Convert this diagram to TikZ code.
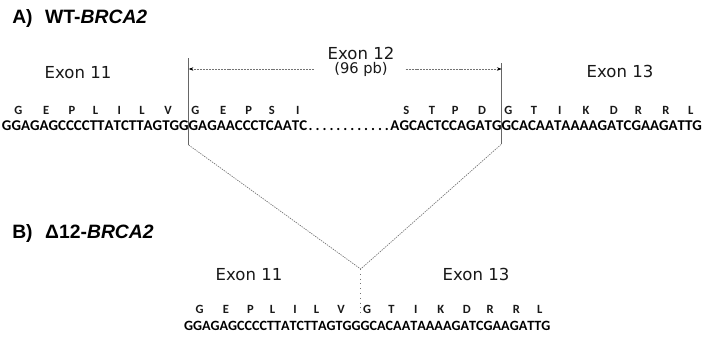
\documentclass[tikz,border=0pt]{standalone}
\usepackage{fontspec}
\setmainfont{Liberation Sans}
\newfontfamily\labelfont{DejaVu Sans}
\newfontfamily\seqfont{Carlito}
\usetikzlibrary{calc,arrows.meta}

% A row of bases, one node per letter, laid out rightwards from a start point.
% #1 name prefix, #2 start point, #3 letter style, #4 letters
\newcommand\basesrightward[4]{%
  \node[inner sep=0pt, outer sep=0pt, minimum size=0pt, anchor=base west] (#10) at #2 {};
  \foreach \ch [count=\i] in {#4} {
    \pgfmathtruncatemacro\previdx{\i-1}
    \node[#3, anchor=base west] (#1\i) at (#1\previdx.base east) {\ch};
  }%
}
% The same, laid out leftwards from an end point.
% #1 name prefix, #2 end point, #3 letter style, #4 number of letters,
% #5 letters from the last to the first
\newcommand\basesleftward[5]{%
  \pgfmathtruncatemacro\endidx{#4+1}
  \node[inner sep=0pt, outer sep=0pt, minimum size=0pt, anchor=base east] (#1\endidx) at #2 {};
  \foreach \ch [count=\i] in {#5} {
    \pgfmathtruncatemacro\curidx{#4+1-\i}
    \pgfmathtruncatemacro\nextidx{\curidx+1}
    \node[#3, anchor=base east] (#1\curidx) at (#1\nextidx.base west) {\ch};
  }%
}
% Amino acids centred over the middle base of each codon.
% #1 base prefix, #2 raise, #3 style, #4 residues
\newcommand\residues[4]{%
  \foreach \aa [count=\i] in {#4} {
    \pgfmathtruncatemacro\mididx{3*\i-1}
    \node[#3, anchor=base] (#1aa\i) at ($(#1\mididx.base)+(2,-#2)$) {\aa};
  }%
}

\tikzset{
  base/.style={inner sep=0pt, outer sep=0pt, font=\seqfont\bfseries\fontsize{11.2pt}{13pt}\selectfont},
  basesmall/.style={inner sep=0pt, outer sep=0pt, font=\seqfont\bfseries\fontsize{10.6pt}{12pt}\selectfont},
  residue/.style={inner sep=0pt, text=black!90, font=\seqfont\bfseries\fontsize{9.4pt}{11pt}\selectfont},
  exonlab/.style={inner sep=0pt, text=black!90, font=\labelfont\fontsize{12.4pt}{14pt}\selectfont},
  sizelab/.style={text=black!90, font=\labelfont\fontsize{11pt}{13pt}\selectfont},
  paneltitle/.style={inner sep=0pt, anchor=base west, font=\bfseries\fontsize{14.5pt}{16pt}\selectfont},
  exonline/.style={draw=black!60, line width=0.7pt},
  splice/.style={draw=black!55, line width=0.5pt, dash pattern=on 1pt off 0.8pt},
  junction/.style={draw=black!55, line width=0.6pt, dash pattern=on 0.6pt off 3pt},
  dimarrow/.style={draw=black!55, line width=0.5pt, dash pattern=on 1.5pt off 0.7pt,
                   -{Stealth[length=3.5pt, width=2.6pt, black]}},
}

\begin{document}
\begin{tikzpicture}[x=0.75pt, y=-0.75pt]
  \useasboundingbox[fill=white] (0,0) rectangle (704,339);

  % ---------- A) wild type ----------
  \node[paneltitle] (titleA) at (12,23) {A)\hspace{0.65em}WT-\textit{BRCA2}};

  % exon 11 + start of exon 12
  \basesrightward{t}{(2,130)}{base}{G,G,A,G,A,G,C,C,C,C,T,T,A,T,C,T,T,A,G,T,G,G,G,A,G,A,A,C,C,C,T,C,A,A,T,C}
  % end of exon 12 + exon 13
  \basesleftward{u}{(702,130)}{base}{36}{G,T,T,A,G,A,A,G,C,T,A,G,A,A,A,A,T,A,A,C,A,C,G,G,T,A,G,A,C,C,T,C,A,C,G,A}
  % elided part of exon 12
  \foreach \k in {1,...,12}
    \node[base, anchor=base] (gap\k) at ($(t36.base east)!{(\k-0.5)/12}!(u1.base west)$) {.};

  \residues{t}{16}{residue}{G,E,P,L,I,L,V,G,E,P,S,I}
  \residues{u}{16}{residue}{S,T,P,D,G,T,I,K,D,R,R,L}

  \node[exonlab, anchor=base] (ex11A) at (78,78) {Exon 11};
  \node[exonlab, anchor=base] (ex12A) at (361,59) {Exon 12};
  \node[sizelab] (pb) at (361,69) {(96 pb)};
  \node[exonlab, anchor=base] (ex13A) at (620,77) {Exon 13};

  % exon 12 boundaries
  \coordinate (yLtop) at (0,58);
  \coordinate (yRtop) at (0,63);
  \coordinate (yLbot) at (0,145);
  \coordinate (yRbot) at (0,144);
  \coordinate (Ltop) at (t22.base east |- yLtop);
  \coordinate (Lbot) at (t22.base east |- yLbot);
  \coordinate (Rtop) at (u13.base east |- yRtop);
  \coordinate (Rbot) at (u13.base east |- yRbot);
  \draw[exonline] (Ltop) -- (Lbot);
  \draw[exonline] (Rtop) -- (Rbot);
  \draw[dimarrow] ([xshift=-12pt]pb.west) -- (pb.west -| Ltop);
  \draw[dimarrow] ([xshift=10pt]pb.east) -- (pb.east -| Rtop);

  % ---------- B) exon 12 deleted ----------
  \node[paneltitle] (titleB) at (12,238) {B)\hspace{0.65em}Δ12-\textit{BRCA2}};

  \basesrightward{b}{(184,330)}{basesmall}{G,G,A,G,A,G,C,C,C,C,T,T,A,T,C,T,T,A,G,T,G,G,G,C,A,C,A,A,T,A,A,A,A,G,A,T,C,G,A,A,G,A,T,T,G}
  \residues{b}{17}{residue}{G,E,P,L,I,L,V,G,T,I,K,D,R,R,L}

  \node[exonlab, anchor=base] (ex11B) at (249,280) {Exon 11};
  \node[exonlab, anchor=base] (ex13B) at (476,280) {Exon 13};

  % splice junction
  \coordinate (yV) at (0,269);
  \coordinate (yJ) at (0,315);
  \coordinate (V) at (b22.base east |- yV);
  \coordinate (J) at (b22.base east |- yJ);
  \draw[splice] (Lbot) -- (V) -- (Rbot);
  \draw[junction] (V) -- (J);
\end{tikzpicture}
\end{document}
